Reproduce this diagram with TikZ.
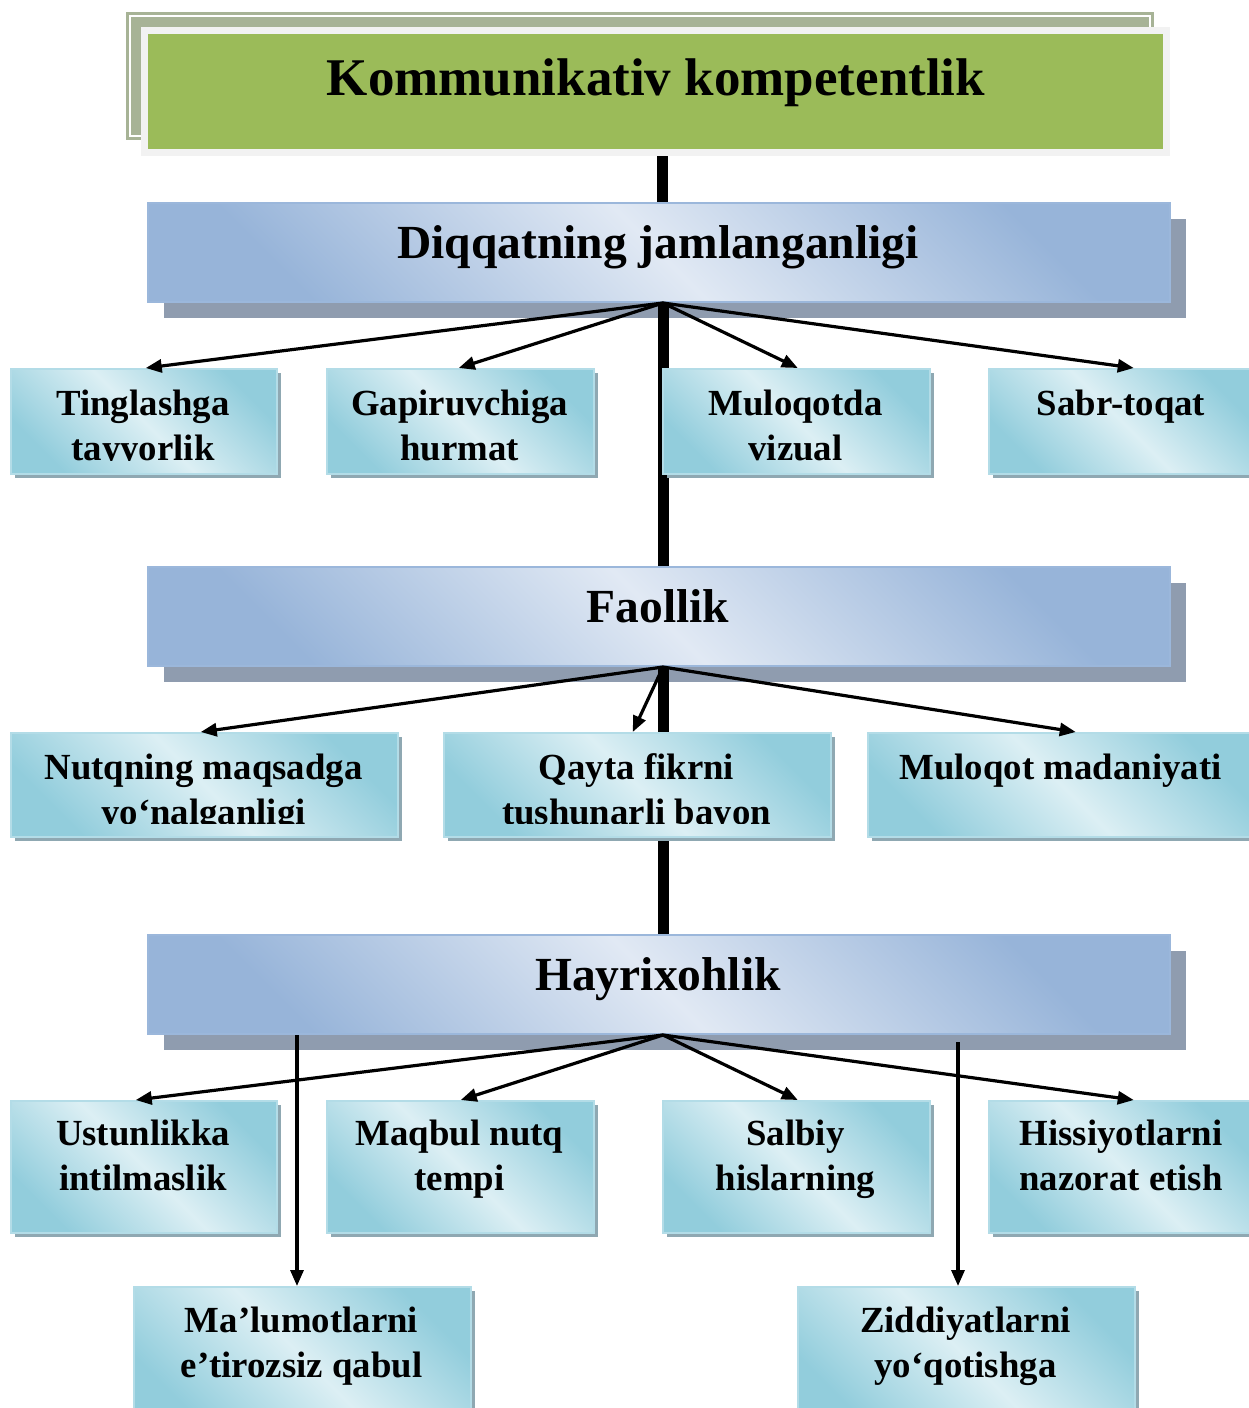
\documentclass[tikz,border=0pt]{standalone}
\usepackage{fontspec}
\setmainfont{Liberation Serif}
\usetikzlibrary{shadows,arrows.meta,calc}
\definecolor{titleback}{HTML}{A7B396}
\definecolor{titleframe}{HTML}{F2F2F2}
\definecolor{titlegreen}{HTML}{9BBB59}
\definecolor{hdrlight}{HTML}{E1E9F4}
\definecolor{hdrdark}{HTML}{97B4D9}
\definecolor{hdrborder}{HTML}{9BB7DB}
\definecolor{hdrshadow}{HTML}{8F9CAF}
\definecolor{boxlight}{HTML}{DCEFF4}
\definecolor{boxdark}{HTML}{92CDDC}
\definecolor{boxborder}{HTML}{B3DCE7}
\definecolor{boxshadow}{HTML}{8FA8B2}
\newcommand\twol[2]{\begin{tabular}[t]{@{}c@{}}#1\\#2\end{tabular}}
\begin{document}
\begin{tikzpicture}[x=1pt,y=-1pt,
  titlebox/.style={fill=titlegreen, inner sep=0pt, anchor=north west},
  titletext/.style={font=\fontsize{53}{60}\selectfont\bfseries, inner sep=0pt, anchor=base},
  hdr/.style={draw=hdrborder, line width=2pt, inner sep=0pt, anchor=north west,
    minimum width=1022pt, minimum height=99pt,
    top color=hdrdark, bottom color=hdrdark, middle color=hdrlight, shading angle=-45,
    drop shadow={shadow xshift=16pt, shadow yshift=-16pt, fill=hdrshadow, opacity=1}},
  hdrtext/.style={font=\fontsize{47.5}{55}\selectfont\bfseries, inner sep=0pt, anchor=base},
  sbox/.style={draw=boxborder, line width=1.5pt, inner sep=0pt, anchor=north west,
    top color=boxdark, bottom color=boxdark, middle color=boxlight, shading angle=-45,
    drop shadow={shadow xshift=4pt, shadow yshift=-4pt, fill=boxshadow, opacity=1}},
  stext/.style={font=\fontsize{36.8}{45}\selectfont\bfseries, inner sep=0pt, anchor=base},
  spine/.style={line width=11pt, black},
  arr/.style={line width=3.2pt, -{Triangle[length=16pt,width=13pt]}}
]
\useasboundingbox[fill=white] (0,0) rectangle (1248,1408);

% ---- title ----
\fill[titleback] (126,12) rectangle (1154,140);
\draw[white, line width=1.2pt] (130,16) rectangle (1150,136);
\fill[titleframe] (141,27) rectangle (1170,156);
\node[titlebox, minimum width=1015pt, minimum height=115pt] (title) at (148,34) {};
\node[titletext] (titlet) at (656,95) {Kommunikativ kompetentlik};

% ---- headers ----
\node[hdr] (h1) at (147,202) {};
\node[hdrtext] (h1t) at (658,258) {Diqqatning jamlanganligi};
\node[hdr] (h2) at (147,566) {};
\node[hdrtext] (h2t) at (658,622) {Faollik};
\node[hdr] (h3) at (147,934) {};
\node[hdrtext] (h3t) at (658,990) {Hayrixohlik};

% ---- spine ----
\coordinate (hub0) at ([xshift=6.5pt,yshift=-7pt]title.south);
\coordinate (hub1) at ([xshift=4pt]h1.south);
\coordinate (hub2) at ([xshift=4pt]h2.south);
\coordinate (hub3) at ([xshift=4pt]h3.south);
\draw[spine] (hub0) -- (hub0 |- h1.north);
\draw[spine] (hub1) -- (hub1 |- h2.north);
\draw[spine] (hub2) -- (hub2 |- h3.north);

% ---- row 1 ----
\node[sbox, minimum width=266pt, minimum height=105pt] (b11) at (10,368) {};
\node[sbox, minimum width=267pt, minimum height=105pt] (b12) at (326,368) {};
\node[sbox, minimum width=267pt, minimum height=105pt] (b13) at (662,368) {};
\node[sbox, minimum width=266pt, minimum height=105pt] (b14) at (988,368) {};
\begin{scope}
\clip (0,368) rectangle (1248,460.5);
\node[stext] (t11) at (143,415) {\twol{Tinglashga}{tayyorlik}};
\node[stext] (t12) at (459.5,415) {\twol{Gapiruvchiga}{hurmat}};
\node[stext] (t13) at (795.5,415) {\twol{Muloqotda}{vizual}};
\node[stext] (t14) at (1121,415) {Sabr-toqat};
\end{scope}

% ---- row 2 ----
\node[sbox, minimum width=387pt, minimum height=104pt] (b21) at (10,732) {};
\node[sbox, minimum width=387pt, minimum height=104pt] (b22) at (443,732) {};
\node[sbox, minimum width=387pt, minimum height=104pt] (b23) at (867,732) {};
\begin{scope}
\clip (0,732) rectangle (1248,823);
\node[stext] (t21) at (203.5,779) {\twol{Nutqning maqsadga}{yo‘nalganligi}};
\node[stext] (t22) at (636.5,779) {\twol{Qayta fikrni}{tushunarli bayon}};
\node[stext] (t23) at (1060.5,779) {Muloqot madaniyati};
\end{scope}

% ---- row 3 ----
\node[sbox, minimum width=266pt, minimum height=132pt] (b31) at (10,1100) {};
\node[sbox, minimum width=267pt, minimum height=132pt] (b32) at (326,1100) {};
\node[sbox, minimum width=267pt, minimum height=132pt] (b33) at (662,1100) {};
\node[sbox, minimum width=266pt, minimum height=132pt] (b34) at (988,1100) {};
\node[stext] (t31) at (143,1145) {\twol{Ustunlikka}{intilmaslik}};
\node[stext] (t32) at (459.5,1145) {\twol{Maqbul nutq}{tempi}};
\node[stext] (t33) at (795.5,1145) {\twol{Salbiy}{hislarning}};
\node[stext] (t34) at (1121,1145) {\twol{Hissiyotlarni}{nazorat etish}};

% ---- bottom ----
\node[sbox, minimum width=337pt, minimum height=140pt] (m1) at (133,1286) {};
\node[sbox, minimum width=337pt, minimum height=140pt] (m2) at (797,1286) {};
\node[stext] (tm1) at (301.5,1332) {\twol{Ma’lumotlarni}{e’tirozsiz qabul}};
\node[stext] (tm2) at (965.5,1332) {\twol{Ziddiyatlarni}{yo‘qotishga}};

% ---- arrows ----
\draw[arr] (hub1) -- ([xshift=2pt]b11.north);
\draw[arr] (hub1) -- ([xshift=-1.5pt]b12.north);
\draw[arr] (hub1) -- ([xshift=1.5pt]b13.north);
\draw[arr] (hub1) -- ([xshift=12pt]b14.north);

\draw[arr] (hub2) -- ([xshift=-3.5pt]b21.north);
\draw[arr] (hub2) -- ([xshift=-4.5pt]b22.north);
\draw[arr] (hub2) -- ([xshift=14.5pt]b23.north);

\draw[arr] (hub3) -- ([xshift=-8pt]b31.north);
\draw[arr] (hub3) -- ([xshift=0.5pt]b32.north);
\draw[arr] (hub3) -- ([xshift=1.5pt]b33.north);
\draw[arr] (hub3) -- ([xshift=12pt]b34.north);

\coordinate (v1) at ([xshift=150pt]h3.south west);
\coordinate (v2) at ([xshift=811pt,yshift=-7pt]h3.south west);
\draw[arr] (v1) -- (v1 |- m1.north);
\draw[arr] (v2) -- (v2 |- m2.north);
\end{tikzpicture}
\end{document}
